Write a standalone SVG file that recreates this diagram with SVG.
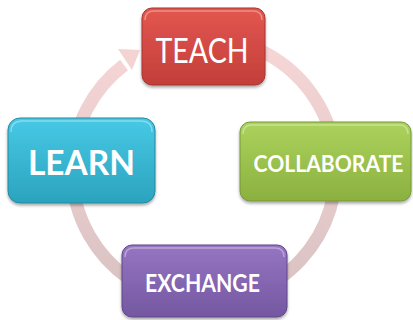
<svg xmlns="http://www.w3.org/2000/svg" width="413" height="320" viewBox="0 0 413 320">
<style>
.lbl{font-family:Lato,"Open Sans","Liberation Sans",sans-serif;fill:#ffffff;text-anchor:middle}
.b{font-weight:bold}
.hl{fill:none;stroke:#ffffff;stroke-opacity:0.35;stroke-width:1.5}
</style>
<defs>
<linearGradient id="gRed" x1="0" y1="0" x2="0" y2="1"><stop offset="0" stop-color="#e3564f"/><stop offset="1" stop-color="#c23f3a"/></linearGradient>
<linearGradient id="gCyan" x1="0" y1="0" x2="0" y2="1"><stop offset="0" stop-color="#47c9e5"/><stop offset="1" stop-color="#2ba3be"/></linearGradient>
<linearGradient id="gGreen" x1="0" y1="0" x2="0" y2="1"><stop offset="0" stop-color="#acd35c"/><stop offset="1" stop-color="#8bb040"/></linearGradient>
<linearGradient id="gPurple" x1="0" y1="0" x2="0" y2="1"><stop offset="0" stop-color="#9675c3"/><stop offset="1" stop-color="#7457a1"/></linearGradient>
<linearGradient id="gRing" gradientUnits="userSpaceOnUse" x1="0" y1="38" x2="0" y2="302"><stop offset="0" stop-color="#f7d6d6"/><stop offset="1" stop-color="#d9c2c2"/></linearGradient>
<filter id="sh" x="-10%" y="-10%" width="120%" height="130%"><feDropShadow dx="0" dy="2" stdDeviation="1.5" flood-color="#000" flood-opacity="0.35"/></filter>
</defs>
<g id="connectors">
<path d="M204 38 A132 132 0 1 1 124 65" fill="none" stroke="url(#gRing)" stroke-width="13"/>
<polygon points="118,49 140,50 132,70" fill="#f4d3d3"/>
</g>
<g id="teach">
<rect x="142" y="8" width="123" height="77" rx="10" fill="url(#gRed)" stroke="#a8332f" stroke-width="1" filter="url(#sh)"/>
<path class="hl" d="M145 20 Q145 11 154 11 L253 11 Q262 11 262 20"/>
<text class="lbl" x="202" y="63" font-size="35" textLength="93" lengthAdjust="spacingAndGlyphs">TEACH</text>
</g>
<g id="learn">
<rect x="8" y="118" width="147" height="85" rx="12" fill="url(#gCyan)" stroke="#23899f" stroke-width="1" filter="url(#sh)"/>
<path class="hl" d="M11 132 Q11 121 22 121 L141 121 Q152 121 152 132"/>
<text class="lbl b" x="81.5" y="175" font-size="35" textLength="107" lengthAdjust="spacingAndGlyphs">LEARN</text>
</g>
<g id="collaborate">
<rect x="240" y="122" width="171" height="79" rx="10" fill="url(#gGreen)" stroke="#769836" stroke-width="1" filter="url(#sh)"/>
<path class="hl" d="M243 134 Q243 125 252 125 L399 125 Q408 125 408 134"/>
<text class="lbl b" x="328.5" y="171.5" font-size="22" textLength="150" lengthAdjust="spacingAndGlyphs">COLLABORATE</text>
</g>
<g id="exchange">
<rect x="122" y="245" width="165" height="72" rx="10" fill="url(#gPurple)" stroke="#5f4689" stroke-width="1" filter="url(#sh)"/>
<path class="hl" d="M125 257 Q125 248 134 248 L275 248 Q284 248 284 257"/>
<text class="lbl b" x="202.5" y="292" font-size="24" textLength="115" lengthAdjust="spacingAndGlyphs">EXCHANGE</text>
</g>
</svg>
